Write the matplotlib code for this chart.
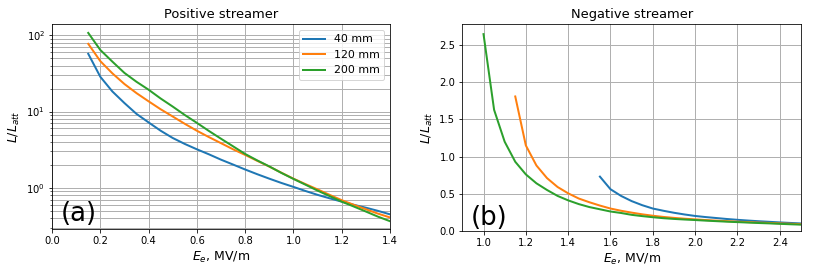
import numpy as np
import matplotlib.pyplot as plt

# positive streamer, E_e in MV/m
e_pos = [0.15, 0.2, 0.25, 0.3, 0.35, 0.4, 0.45, 0.5, 0.55, 0.6, 0.65, 0.7, 0.75,
         0.8, 0.85, 0.9, 0.95, 1.0, 1.05, 1.1, 1.15, 1.2, 1.25, 1.3, 1.35, 1.4]
pos_40 = [57, 28.5, 18.3, 12.9, 9.3, 7.2, 5.6, 4.5, 3.76, 3.2, 2.75, 2.34, 2.02,
          1.74, 1.51, 1.32, 1.16, 1.03, 0.91, 0.81, 0.73, 0.66, 0.6, 0.55, 0.5, 0.45]
pos_120 = [77, 45.7, 31.6, 22.9, 17.4, 13.6, 10.7, 8.6, 6.9, 5.6, 4.62, 3.85, 3.2,
           2.7, 2.26, 1.9, 1.58, 1.32, 1.12, 0.955, 0.81, 0.69, 0.6, 0.525, 0.46, 0.41]
pos_200 = [107, 64, 45, 32, 24.5, 19.3, 14.8, 11.6, 9.0, 7.1, 5.56, 4.4, 3.5,
           2.78, 2.29, 1.91, 1.57, 1.31, 1.1, 0.92, 0.78, 0.66, 0.57, 0.49, 0.42, 0.366]

# negative streamer
e_neg_200 = [1.0, 1.05, 1.1, 1.15, 1.2, 1.25, 1.3, 1.35, 1.4, 1.45, 1.5, 1.55, 1.6,
             1.65, 1.7, 1.75, 1.8, 1.85, 1.9, 1.95, 2.0, 2.05, 2.1, 2.15, 2.2,
             2.25, 2.3, 2.35, 2.4, 2.45, 2.5]
neg_200 = [2.65, 1.63, 1.2, 0.93, 0.76, 0.64, 0.55, 0.47, 0.41, 0.36, 0.32, 0.29, 0.26,
           0.24, 0.215, 0.198, 0.183, 0.17, 0.16, 0.152, 0.145, 0.137, 0.13, 0.123, 0.117,
           0.111, 0.105, 0.1, 0.094, 0.088, 0.083]
e_neg_120 = e_neg_200[3:]
neg_120 = [1.81, 1.15, 0.88, 0.71, 0.59, 0.505, 0.435, 0.385, 0.34, 0.30, 0.27, 0.245,
           0.222, 0.203, 0.187, 0.174, 0.163, 0.154, 0.145, 0.137, 0.13, 0.123, 0.117,
           0.111, 0.106, 0.1, 0.095, 0.09]
e_neg_40 = e_neg_200[11:]
neg_40 = [0.73, 0.56, 0.47, 0.4, 0.345, 0.30, 0.27, 0.243, 0.22, 0.2, 0.185, 0.172,
          0.159, 0.148, 0.138, 0.129, 0.121, 0.113, 0.106, 0.099]

labels = ["40 mm", "120 mm", "200 mm"]

fig = plt.figure(figsize=(813/72, 269/72), dpi=72)
ax1 = fig.add_axes([0.064, 0.149, 0.4157, 0.760])
ax2 = fig.add_axes([0.5687, 0.142, 0.4165, 0.767])

ax1.plot(e_pos, pos_40, label=labels[0], lw=2)
ax1.plot(e_pos, pos_120, label=labels[1], lw=2)
ax1.plot(e_pos, pos_200, label=labels[2], lw=2)
ax1.set_yscale('log')
ax1.set_xlim(0, 1.4)
ax1.set_ylim(0.29, 138)
ax1.grid(True, which='both', color='#b0b0b0', lw=1)
ax1.set_title("Positive streamer", fontsize=13)
ax1.set_xlabel("$E_e$, MV/m", fontsize=12.5)
ax1.set_ylabel("$L/L_{att}$", fontsize=12.5)
ax1.legend(loc='upper right', fontsize=11)
ax1.text(0.025, 0.04, "(a)", transform=ax1.transAxes, fontsize=26)

ax2.plot(e_neg_40, neg_40, lw=2)
ax2.plot(e_neg_120, neg_120, lw=2)
ax2.plot(e_neg_200, neg_200, lw=2)
ax2.set_xlim(0.9, 2.5)
ax2.set_ylim(0, 2.78)
ax2.set_xticks(np.arange(1.0, 2.5, 0.2))
ax2.grid(True, color='#b0b0b0', lw=1)
ax2.set_title("Negative streamer", fontsize=13)
ax2.set_xlabel("$E_e$, MV/m", fontsize=12.5)
ax2.set_ylabel("$L/L_{att}$", fontsize=12.5)
ax2.text(0.025, 0.03, "(b)", transform=ax2.transAxes, fontsize=26)

fig.savefig("out.png", dpi=72)
